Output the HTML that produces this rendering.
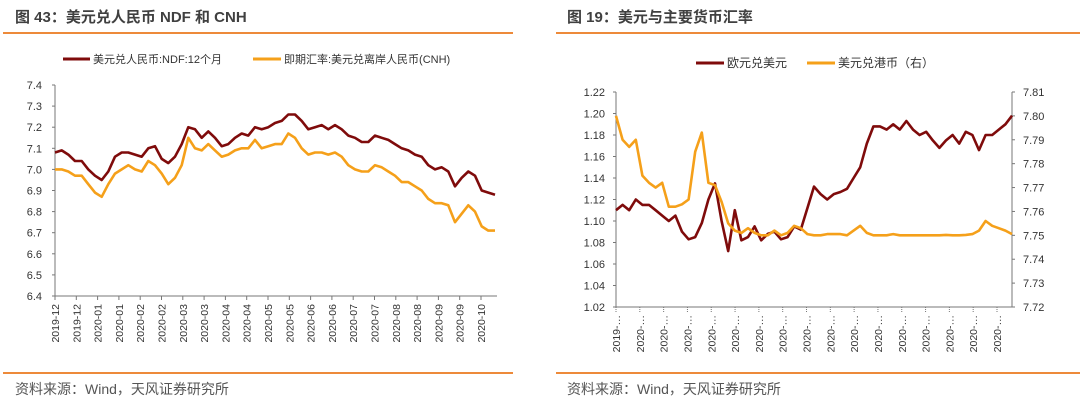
<!DOCTYPE html>
<html><head><meta charset="utf-8">
<style>
body{margin:0;width:1080px;height:401px;background:#fff;overflow:hidden;font-family:"Liberation Sans","Noto Sans CJK SC",sans-serif;}
svg{position:absolute;left:0;top:0}
</style></head>
<body>
<svg id="s" width="1080" height="401">
  <text x="15" y="22" font-size="15" font-weight="bold" fill="#404040" font-family="Liberation Sans,Noto Sans CJK SC,sans-serif">图 43：美元兑人民币 NDF 和 CNH</text>
  <rect x="3" y="32" width="510" height="2" fill="#ed8a3a"/>
  <rect x="3" y="372" width="510" height="2" fill="#ed8a3a"/>
  <text x="15" y="394" font-size="14" fill="#555" font-family="Liberation Sans,Noto Sans CJK SC,sans-serif">资料来源：Wind，天风证券研究所</text>

  <text x="567" y="22" font-size="15" font-weight="bold" fill="#404040" font-family="Liberation Sans,Noto Sans CJK SC,sans-serif">图 19：美元与主要货币汇率</text>
  <rect x="556" y="32" width="524" height="2" fill="#ed8a3a"/>
  <rect x="556" y="372" width="524" height="2" fill="#ed8a3a"/>
  <text x="567" y="394" font-size="14" fill="#555" font-family="Liberation Sans,Noto Sans CJK SC,sans-serif">资料来源：Wind，天风证券研究所</text>

  <g>
    <line x1="63" y1="59" x2="90" y2="59" stroke="#7f0b0b" stroke-width="3"/>
    <text x="93" y="63" font-size="11" fill="#333">美元兑人民币:NDF:12个月</text>
    <line x1="253" y1="59" x2="281" y2="59" stroke="#f5a01a" stroke-width="3"/>
    <text x="284" y="63" font-size="11" fill="#333">即期汇率:美元兑离岸人民币(CNH)</text>
  </g>
  <g>
    <line x1="696" y1="63" x2="724" y2="63" stroke="#7f0b0b" stroke-width="3"/>
    <text x="727" y="67" font-size="12" fill="#333">欧元兑美元</text>
    <line x1="807" y1="63" x2="835" y2="63" stroke="#f5a01a" stroke-width="3"/>
    <text x="838" y="67" font-size="12" fill="#333">美元兑港币（右）</text>
  </g>
  <g id="L"></g>
  <g id="R"></g>
</svg>
<script>
// ---- Left chart data ----
const leftTickLabels = ["2019-12","2019-12","2020-01","2020-01","2020-02","2020-02","2020-03","2020-03","2020-04","2020-04","2020-05","2020-05","2020-06","2020-06","2020-07","2020-07","2020-08","2020-08","2020-09","2020-09","2020-10"];
const leftYTicks = [6.4,6.5,6.6,6.7,6.8,6.9,7.0,7.1,7.2,7.3,7.4];
const ndfValues = [7.08,7.09,7.07,7.04,7.04,7.00,6.97,6.95,6.99,7.06,7.08,7.08,7.07,7.06,7.10,7.11,7.05,7.03,7.06,7.12,7.20,7.19,7.15,7.18,7.15,7.11,7.12,7.15,7.17,7.16,7.20,7.19,7.20,7.22,7.23,7.26,7.26,7.23,7.19,7.20,7.21,7.19,7.21,7.19,7.16,7.15,7.13,7.13,7.16,7.15,7.14,7.12,7.10,7.09,7.07,7.06,7.02,7.00,7.01,6.99,6.92,6.96,6.99,6.97,6.90,6.89,6.88];
const cnhValues = [7.00,7.00,6.99,6.97,6.97,6.93,6.89,6.87,6.93,6.98,7.00,7.02,7.00,6.99,7.04,7.02,6.98,6.93,6.96,7.02,7.15,7.10,7.09,7.12,7.09,7.06,7.07,7.09,7.10,7.10,7.14,7.10,7.11,7.12,7.12,7.17,7.15,7.10,7.07,7.08,7.08,7.07,7.08,7.06,7.02,7.00,6.99,6.99,7.02,7.01,6.99,6.97,6.94,6.94,6.92,6.90,6.86,6.84,6.84,6.83,6.75,6.79,6.83,6.80,6.73,6.71,6.71];
// ---- Right chart data ----
const rightTickLabels = ["2019-…","2020-…","2020-…","2020-…","2020-…","2020-…","2020-…","2020-…","2020-…","2020-…","2020-…","2020-…","2020-…","2020-…","2020-…","2020-…","2020-…"];
const eurYTicks = [1.02,1.04,1.06,1.08,1.10,1.12,1.14,1.16,1.18,1.20,1.22];
const hkdYTicks = [7.72,7.73,7.74,7.75,7.76,7.77,7.78,7.79,7.80,7.81];
const eurValues = [1.110,1.115,1.110,1.120,1.115,1.115,1.110,1.105,1.100,1.105,1.090,1.083,1.085,1.098,1.120,1.135,1.100,1.072,1.110,1.082,1.085,1.095,1.082,1.088,1.090,1.083,1.085,1.095,1.092,1.112,1.132,1.125,1.120,1.125,1.127,1.130,1.140,1.150,1.172,1.188,1.188,1.185,1.190,1.185,1.193,1.185,1.180,1.183,1.175,1.168,1.175,1.180,1.172,1.183,1.180,1.166,1.180,1.180,1.185,1.190,1.198];
const hkdValues = [7.800,7.790,7.787,7.790,7.775,7.772,7.770,7.772,7.762,7.762,7.763,7.765,7.785,7.793,7.772,7.771,7.764,7.755,7.752,7.751,7.753,7.751,7.750,7.750,7.752,7.750,7.751,7.754,7.753,7.7505,7.750,7.750,7.7505,7.7505,7.7505,7.750,7.752,7.754,7.751,7.750,7.750,7.750,7.7505,7.750,7.750,7.750,7.750,7.750,7.750,7.750,7.7502,7.750,7.750,7.7502,7.7505,7.752,7.756,7.754,7.753,7.752,7.7505];

const NS="http://www.w3.org/2000/svg";
function mk(parent,tag,attrs,text){const e=document.createElementNS(NS,tag);for(const k in attrs)e.setAttribute(k,attrs[k]);if(text!==undefined)e.textContent=text;parent.appendChild(e);return e;}

// Left chart
const L=document.getElementById('L');
const lx0=55,lx1=495,ly0=296,ly1=85,lmin=6.4,lmax=7.4;
const lY=v=>ly0-(v-lmin)/(lmax-lmin)*(ly0-ly1);
const lX=(i,n)=>lx0+i*(lx1-lx0)/(n-1);
const lTick=i=>lx0+i*(481-lx0)/(leftTickLabels.length-1);
let ax=mk(L,'line',{x1:lx0,y1:ly1,x2:lx0,y2:ly0,stroke:'#777','stroke-width':1});


ax=mk(L,'line',{x1:lx0,y1:ly0,x2:lx1+2,y2:ly0,stroke:'#777','stroke-width':1});


leftYTicks.forEach(v=>{
  const y=lY(v);
  mk(L,'line',{x1:lx0-3,y1:y,x2:lx0,y2:y,stroke:'#777'});
  const t=mk(L,'text',{x:lx0-13,y:y+4,'font-size':11,'text-anchor':'end',fill:'#333'},v.toFixed(1));
  
  
});
leftTickLabels.forEach((s,i)=>{
  const x=lTick(i);
  mk(L,'line',{x1:x,y1:ly0,x2:x,y2:ly0+4,stroke:'#777'});
  const t=mk(L,'text',{transform:`translate(${x+4},${ly0+8}) rotate(-90)`,'font-size':10.5,'text-anchor':'end',fill:'#333'},s);
  
  
});
function line(g,vals,xf,yf,col,name){
  const pts=vals.map((v,i)=>xf(i,vals.length).toFixed(1)+','+yf(v).toFixed(1)).join(' ');
  const p=mk(g,'polyline',{points:pts,fill:'none',stroke:col,'stroke-width':2.6,'stroke-linejoin':'round'});
  
  
}
line(L,ndfValues,lX,lY,'#7f0b0b','ndf-line');
line(L,cnhValues,lX,lY,'#f5a01a','cnh-line');

// Right chart
const R=document.getElementById('R');
const rx0=616,rx1=1012,ry0=307,ry1=92;
const eY=v=>ry0-(v-1.02)/(0.20)*(ry0-ry1);
const hY=v=>ry0-(v-7.72)/(0.09)*(ry0-ry1);
const rX=(i,n)=>rx0+i*(rx1-rx0)/(n-1);
const rTick=i=>rx0+i*(997-rx0)/(rightTickLabels.length-1);
ax=mk(R,'line',{x1:rx0,y1:ry1,x2:rx0,y2:ry0,stroke:'#777'});


ax=mk(R,'line',{x1:rx1,y1:ry1,x2:rx1,y2:ry0,stroke:'#777'});


ax=mk(R,'line',{x1:rx0,y1:ry0,x2:rx1,y2:ry0,stroke:'#777'});


eurYTicks.forEach(v=>{
  const y=eY(v);
  mk(R,'line',{x1:rx0-3,y1:y,x2:rx0,y2:y,stroke:'#777'});
  const t=mk(R,'text',{x:rx0-11,y:y+4,'font-size':11,'text-anchor':'end',fill:'#333'},v.toFixed(2));
  
  
});
hkdYTicks.forEach(v=>{
  const y=hY(v);
  mk(R,'line',{x1:rx1,y1:y,x2:rx1+3,y2:y,stroke:'#777'});
  const t=mk(R,'text',{x:rx1+11,y:y+4,'font-size':11,fill:'#333'},v.toFixed(2));
  
  
});
rightTickLabels.forEach((s,i)=>{
  const x=rTick(i);
  mk(R,'line',{x1:x,y1:ry0,x2:x,y2:ry0+5,stroke:'#777','stroke-dasharray':'1,1'});
  const t=mk(R,'text',{transform:`translate(${x+4},${ry0+8}) rotate(-90)`,'font-size':10.5,'text-anchor':'end',fill:'#333'},s);
  
  
});
line(R,eurValues,rX,eY,'#7f0b0b','eur-usd-line');
line(R,hkdValues,rX,hY,'#f5a01a','usd-hkd-line');
</script>
</body></html>
